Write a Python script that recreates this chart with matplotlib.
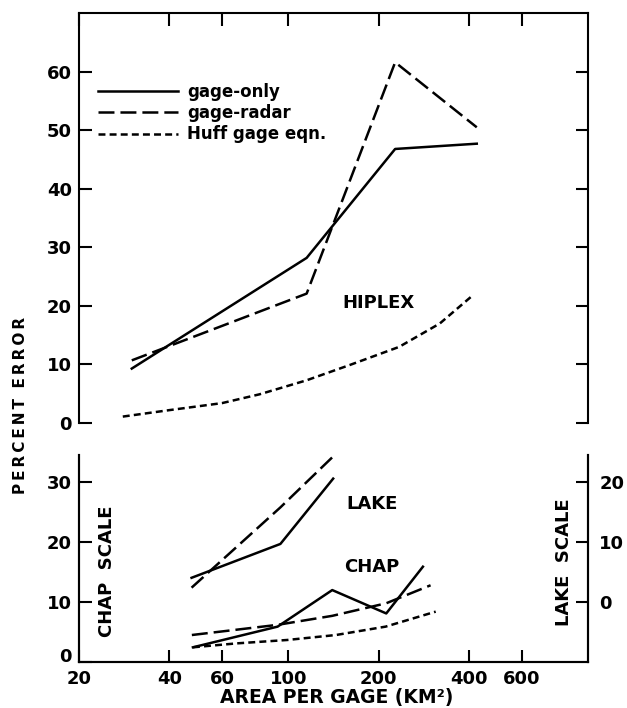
import matplotlib
matplotlib.use("Agg")
import matplotlib.pyplot as plt
from matplotlib.lines import Line2D

# datos (area por pluviometro en km2, error en %)
hiplex_x = [30, 115, 227, 425]
hiplex_gage_only = [9.3, 28.2, 46.8, 47.7]
hiplex_gage_radar = [10.7, 22.1, 61.6, 50.5]
hiplex_huff_x = [28, 40, 60, 80, 115, 160, 234, 320, 412]
hiplex_huff = [1.1, 2.2, 3.4, 4.9, 7.3, 9.9, 13.0, 17.0, 21.8]

# LAKE se dibuja con su propia escala (eje derecho)
lake_x = [47.5, 94, 141]
lake_gage_only = [4.05, 9.7, 20.6]
lake_gage_radar = [2.4, 15.8, 24.3]

chap_x = [48, 92, 140, 212, 281]
chap_gage_only = [2.45, 5.9, 12.0, 8.1, 15.9]
chap_radar_x = [47.6, 92, 140, 212, 298]
chap_gage_radar = [4.5, 6.2, 7.7, 9.8, 12.8]
chap_huff_x = [48, 67, 99, 144, 211, 310]
chap_huff = [2.45, 3.1, 3.67, 4.5, 5.9, 8.4]

x_ticks = [20, 40, 60, 100, 200, 400, 600]
top_yticks = [0, 10, 20, 30, 40, 50, 60]
chap_yticks = [0, 10, 20, 30]
lake_yticks = [0, 10, 20]
legend_labels = ["gage-only", "gage-radar", "Huff gage eqn."]

plt.rcParams['font.family'] = ['DejaVu Sans']
plt.rcParams['font.weight'] = 'bold'
plt.rcParams['lines.scale_dashes'] = False

LW = 1.8
solid = dict(color='black', lw=LW, linestyle='-')
longdash = dict(color='black', lw=LW, dashes=(11.5, 4.3))
shortdash = dict(color='black', lw=LW, dashes=(5.0, 3.0))

fig = plt.figure(figsize=(6.27, 7.08), dpi=100)
ax1 = fig.add_axes([0.126, 0.4025, 0.812, 0.579])
ax2 = fig.add_axes([0.126, 0.065, 0.812, 0.292])
ax3 = ax2.twinx()

for ax in (ax1, ax2, ax3):
    ax.set_xscale('log')
    ax.set_xlim(20, 1000)
    ax.minorticks_off()
    for s in ax.spines.values():
        s.set_linewidth(1.5)
    ax.tick_params(direction='in', length=9, width=1.5, labelsize=13, pad=5)

# --- panel superior: HIPLEX ---
ax1.plot(hiplex_x, hiplex_gage_only, **solid)
ax1.plot(hiplex_x, hiplex_gage_radar, **longdash)
ax1.plot(hiplex_huff_x, hiplex_huff, **shortdash)
ax1.set_ylim(0, 70)
ax1.set_yticks(top_yticks)
ax1.spines['bottom'].set_visible(False)
ax1.set_xticks(x_ticks)
ax1.minorticks_off()
ax1.tick_params(axis='x', bottom=False, labelbottom=False, top=True, labeltop=False)
ax1.tick_params(axis='y', left=True, right=True, labelright=False)
ax1.text(200, 20.5, "HIPLEX", ha='center', va='center', fontsize=13)

handles = [Line2D([], [], **solid), Line2D([], [], **longdash), Line2D([], [], **shortdash)]
ax1.legend(handles, legend_labels, loc='upper left', bbox_to_anchor=(0.037, 0.83),
           frameon=False, fontsize=12, handlelength=4.8, handletextpad=0.55,
           labelspacing=0.2, borderpad=0, borderaxespad=0)

# --- panel inferior: CHAP (izq) y LAKE (der) ---
ax2.plot(chap_x, chap_gage_only, **solid)
ax2.plot(chap_radar_x, chap_gage_radar, **longdash)
ax2.plot(chap_huff_x, chap_huff, **shortdash)
ax2.set_ylim(0, 34.5)
ax2.set_yticks(chap_yticks)
ax2.set_xticks(x_ticks)
ax2.set_xticklabels([str(t) for t in x_ticks])
ax2.minorticks_off()
ax2.spines['top'].set_visible(False)
ax2.tick_params(axis='x', top=False, pad=6)
# el "0" queda apoyado sobre el eje, como en el original
ax2.get_yticklabels()[0].set_va('baseline')

ax3.plot(lake_x, lake_gage_only, **solid)
ax3.plot(lake_x, lake_gage_radar, **longdash)
ax3.set_ylim(-10, 24.5)
ax3.set_yticks(lake_yticks)
ax3.spines['top'].set_visible(False)
ax3.tick_params(axis='y', pad=8)

ax2.text(190, 26.4, "LAKE", ha='center', va='center', fontsize=13)
ax2.text(190, 15.9, "CHAP", ha='center', va='center', fontsize=13)
ax2.text(0.055, 0.437, "CHAP  SCALE", transform=ax2.transAxes, rotation=90,
         ha='center', va='center', fontsize=13)
ax2.text(0.953, 0.483, "LAKE  SCALE", transform=ax2.transAxes, rotation=90,
         ha='center', va='center', fontsize=13)

ylabel = "\u2009".join("PERCENT") + "  " + "\u2009".join("ERROR")
fig.text(0.032, 0.428, ylabel, rotation=90, ha='center', va='center', fontsize=11)
fig.text(0.537, 0.0155, "AREA PER GAGE (KM²)", ha='center', va='center', fontsize=13.5)

fig.savefig("out.png", dpi=100)
